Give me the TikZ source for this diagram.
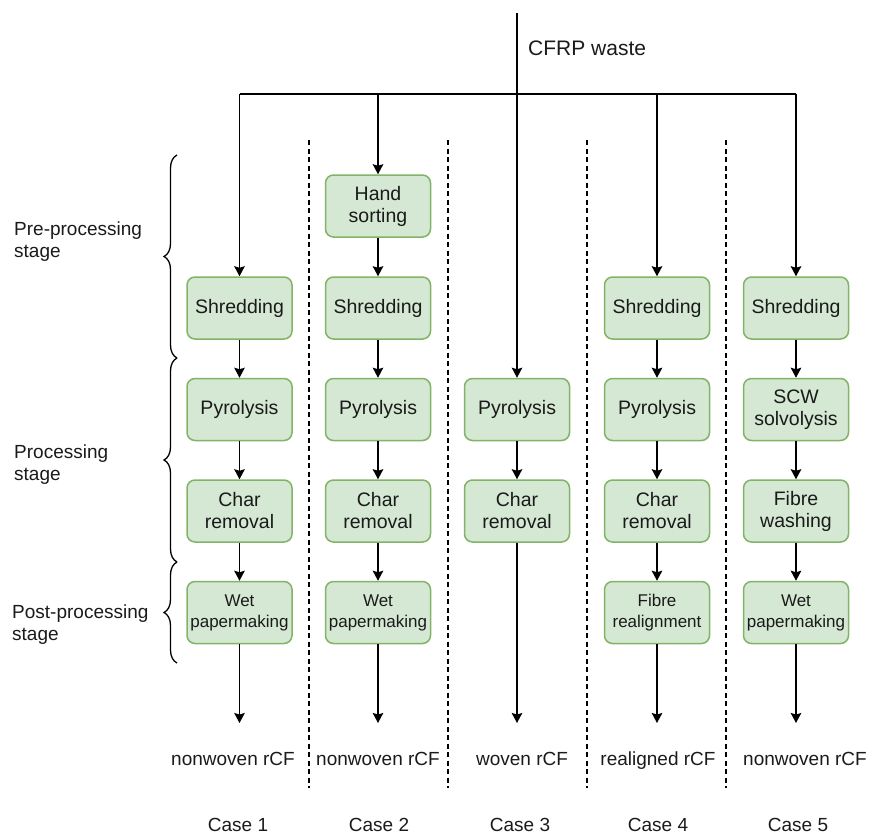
\documentclass[tikz,border=0pt]{standalone}
\usepackage{fontspec}
\setmainfont{Liberation Sans}
\usetikzlibrary{arrows.meta,decorations.pathreplacing}
\definecolor{boxfill}{HTML}{D5E8D4}
\definecolor{boxdraw}{HTML}{82B366}
\definecolor{txt}{HTML}{1A1A1A}
\begin{document}
\begin{tikzpicture}[x=1pt,y=-1pt,
  procbox/.style={rectangle,rounded corners=8pt,fill=boxfill,draw=boxdraw,line width=1.5pt,
    minimum width=105pt,minimum height=62pt,align=center,inner sep=1pt,text=txt,
    font=\fontsize{19.5}{22}\selectfont},
  smallbox/.style={procbox,font=\fontsize{17}{21}\selectfont},
  lbl/.style={text=txt,font=\fontsize{19}{22}\selectfont,inner sep=0pt,text height=14pt,text depth=4pt},
  stagelbl/.style={text=txt,font=\fontsize{19}{22}\selectfont,inner sep=0pt,align=left,anchor=west},
  flow/.style={line width=1.6pt,-{Stealth[length=10pt,width=10.5pt,inset=1.5pt]}},
  trunk/.style={line width=1.6pt},
  sep/.style={line width=1.4pt,dash pattern=on 5pt off 3.5pt},
  stagebrace/.style={line width=1.3pt,decorate,decoration={brace,amplitude=13pt}}
]
\useasboundingbox (0,0) rectangle (872,836);

% column positions
\def\ca{239.5}\def\cb{378}\def\cc{517}\def\cd{657}\def\ce{796}

% separators
\coordinate (s1t) at (309,140); \coordinate (s1b) at (309,788);
\coordinate (s2t) at (448,140); \coordinate (s2b) at (448,788);
\coordinate (s3t) at (587,140); \coordinate (s3b) at (587,788);
\coordinate (s4t) at (726,140); \coordinate (s4b) at (726,788);
\draw[sep] (s1t) -- (s1b);
\draw[sep] (s2t) -- (s2b);
\draw[sep] (s3t) -- (s3b);
\draw[sep] (s4t) -- (s4b);

% top
\coordinate (top) at (\cc,13);
\coordinate (j1) at (\ca,94);
\coordinate (j2) at (\cb,94);
\coordinate (j3) at (\cc,94);
\coordinate (j4) at (\cd,94);
\coordinate (j5) at (\ce,94);
\node[text=txt,inner sep=0pt,anchor=west,font=\fontsize{21}{24}\selectfont] (waste) at (528,48) {CFRP waste};
\draw[trunk] (j1) -- (j5);

% boxes
\node[procbox] (shred1) at (\ca,308) {Shredding};
\node[procbox] (pyro1) at (\ca,409.5) {Pyrolysis};
\node[procbox] (char1) at (\ca,511) {Char\\removal};
\node[smallbox] (wet1) at (\ca,612.5) {Wet\\papermaking};

\node[procbox] (hand2) at (\cb,206) {Hand\\sorting};
\node[procbox] (shred2) at (\cb,308) {Shredding};
\node[procbox] (pyro2) at (\cb,409.5) {Pyrolysis};
\node[procbox] (char2) at (\cb,511) {Char\\removal};
\node[smallbox] (wet2) at (\cb,612.5) {Wet\\papermaking};

\node[procbox] (pyro3) at (\cc,409.5) {Pyrolysis};
\node[procbox] (char3) at (\cc,511) {Char\\removal};

\node[procbox] (shred4) at (\cd,308) {Shredding};
\node[procbox] (pyro4) at (\cd,409.5) {Pyrolysis};
\node[procbox] (char4) at (\cd,511) {Char\\removal};
\node[smallbox] (align4) at (\cd,612.5) {Fibre\\realignment};

\node[procbox] (shred5) at (\ce,308) {Shredding};
\node[procbox] (scw5) at (\ce,409.5) {SCW\\solvolysis};
\node[procbox] (wash5) at (\ce,511) {Fibre\\washing};
\node[smallbox] (wet5) at (\ce,612.5) {Wet\\papermaking};

% arrow ends
\coordinate (e1) at (\ca,723);
\coordinate (e2) at (\cb,723);
\coordinate (e3) at (\cc,723);
\coordinate (e4) at (\cd,723);
\coordinate (e5) at (\ce,723);

% flows
\draw[flow] (j1) -- (shred1);
\draw[flow] (shred1) -- (pyro1);
\draw[flow] (pyro1) -- (char1);
\draw[flow] (char1) -- (wet1);
\draw[flow] (wet1) -- (e1);

\draw[flow] (j2) -- (hand2);
\draw[flow] (hand2) -- (shred2);
\draw[flow] (shred2) -- (pyro2);
\draw[flow] (pyro2) -- (char2);
\draw[flow] (char2) -- (wet2);
\draw[flow] (wet2) -- (e2);

\draw[flow] (top) -- (pyro3);
\draw[flow] (pyro3) -- (char3);
\draw[flow] (char3) -- (e3);

\draw[flow] (j4) -- (shred4);
\draw[flow] (shred4) -- (pyro4);
\draw[flow] (pyro4) -- (char4);
\draw[flow] (char4) -- (align4);
\draw[flow] (align4) -- (e4);

\draw[flow] (j5) -- (shred5);
\draw[flow] (shred5) -- (scw5);
\draw[flow] (scw5) -- (wash5);
\draw[flow] (wash5) -- (wet5);
\draw[flow] (wet5) -- (e5);

% outputs
\node[lbl] (out1) at (233,760) {nonwoven rCF};
\node[lbl] (out2) at (378,760) {nonwoven rCF};
\node[lbl] (out3) at (522,760) {woven rCF};
\node[lbl] (out4) at (658,760) {realigned rCF};
\node[lbl] (out5) at (805,760) {nonwoven rCF};

\node[lbl] (case1) at (238,826) {Case 1};
\node[lbl] (case2) at (379,826) {Case 2};
\node[lbl] (case3) at (520,826) {Case 3};
\node[lbl] (case4) at (658,826) {Case 4};
\node[lbl] (case5) at (798,826) {Case 5};

% stages
\coordinate (b0) at (177,155);
\coordinate (b1) at (177,358);
\coordinate (b2) at (177,562);
\coordinate (b3) at (177,663);
\draw[stagebrace] (b1) -- (b0);
\draw[stagebrace] (b2) -- (b1);
\draw[stagebrace] (b3) -- (b2);
\node[stagelbl] (pre) at (14,242) {Pre-processing\\stage};
\node[stagelbl] (proc) at (14,465) {Processing\\stage};
\node[stagelbl] (post) at (12,625) {Post-processing\\stage};
\end{tikzpicture}
\end{document}
